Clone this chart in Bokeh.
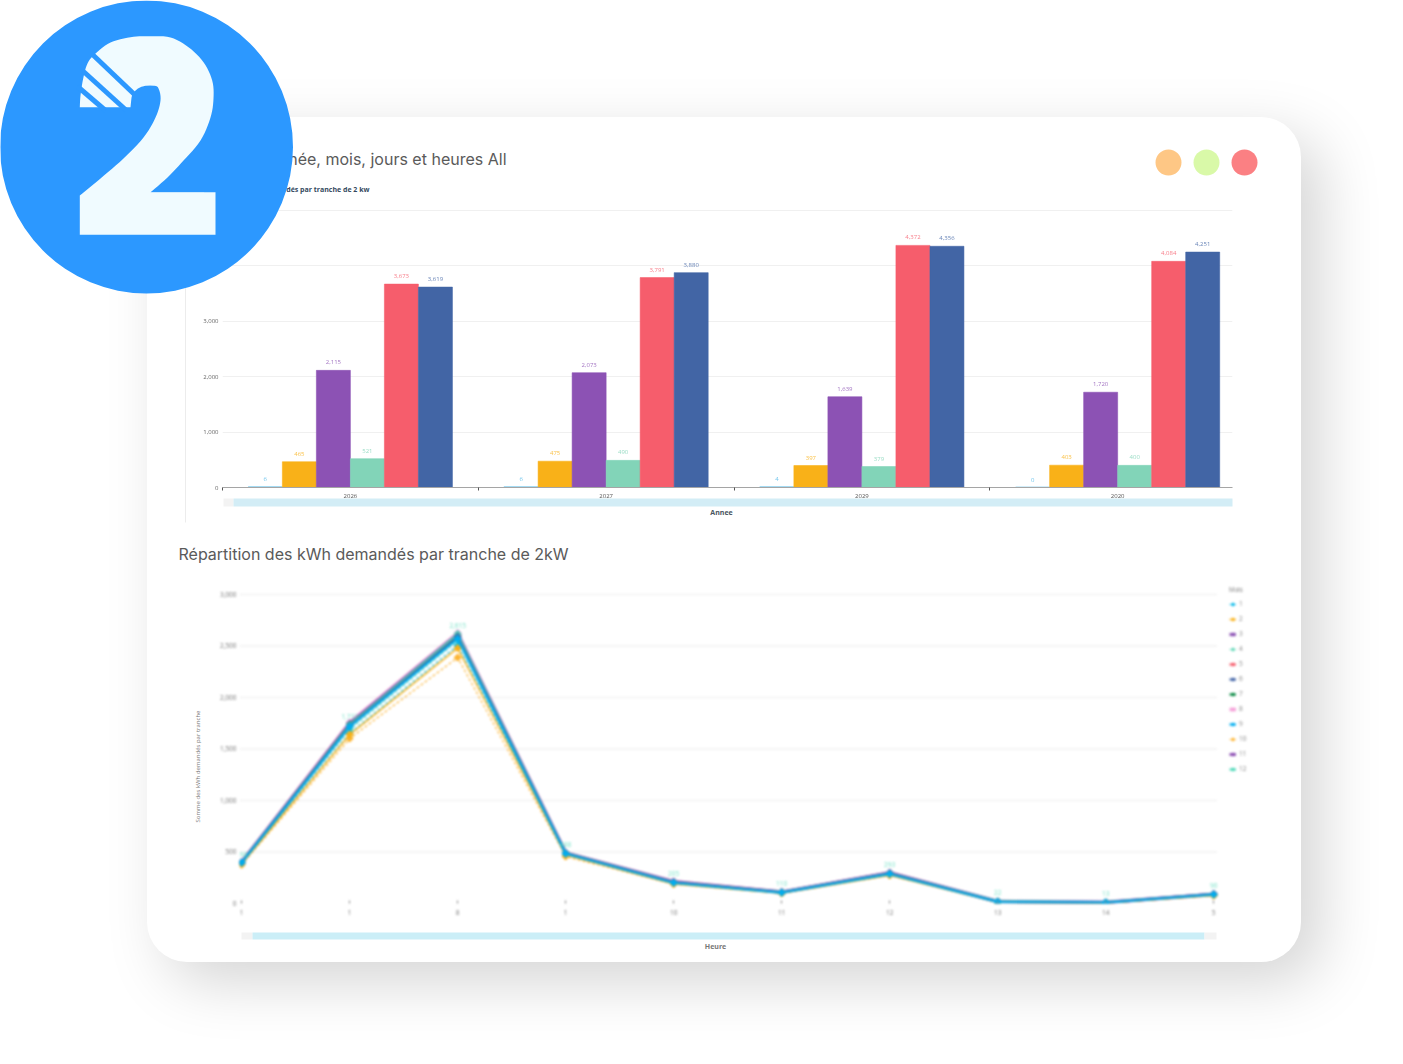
from math import pi
from bokeh.core.properties import value
from bokeh.embed import file_html
from bokeh.models import ColumnDataSource, FixedTicker, Legend, LegendItem, Range1d
from bokeh.plotting import figure
from bokeh.resources import INLINE

# ---------- chart 1 data
years = ["2026", "2027", "2029", "2020"]
tranche_a = [6, 6, 4, 0]
tranche_b = [465, 475, 397, 403]
tranche_c = [2115, 2073, 1639, 1720]
tranche_d = [521, 490, 379, 400]
tranche_e = [3673, 3791, 4372, 4084]
tranche_f = [3619, 3880, 4356, 4251]
bar_series = [tranche_a, tranche_b, tranche_c, tranche_d, tranche_e, tranche_f]
bar_colors = ["#4DB8E8", "#F9B118", "#8C52B4", "#82D4B8", "#F65D6C", "#4265A5"]

# ---------- chart 2 data
x_labels = ["1", "1", "8", "1", "10", "11", "12", "13", "14", "5"]
y_ticks2 = [0, 500, 1000, 1500, 2000, 2500, 3000]
m1 = [392, 1650, 2505, 480, 198, 103, 285, 14, 8, 82]
m2 = [385, 1640, 2480, 470, 190, 100, 275, 12, 6, 78]
m3 = [400, 1745, 2615, 490, 212, 112, 298, 20, 10, 90]
m4 = [396, 1690, 2553, 484, 202, 106, 288, 16, 9, 85]
m5 = [398, 1730, 2600, 486, 205, 108, 292, 18, 10, 88]
m6 = [398, 1722, 2590, 487, 203, 107, 290, 17, 10, 92]
m7 = [397, 1735, 2585, 485, 201, 106, 288, 16, 9, 86]
m8 = [401, 1755, 2625, 489, 210, 110, 296, 19, 11, 88]
m9 = [396, 1715, 2570, 482, 200, 105, 286, 15, 9, 86]
m10 = [375, 1602, 2388, 456, 188, 98, 272, 11, 6, 76]
m11 = [399, 1740, 2610, 488, 208, 110, 296, 19, 10, 89]
m12 = [398, 1733, 2615, 488, 205, 110, 293, 22, 13, 90]
month_series = [m1, m2, m3, m4, m5, m6, m7, m8, m9, m10, m11, m12]
month_colors = ["#01B8E8", "#F9B118", "#8C52B4", "#5CD6B5", "#F65D6C", "#4163A6",
                "#0A8A43", "#F59FD8", "#00AEEF", "#FDB32E", "#8C4FB3", "#4FD8B8"]
month_names = [str(i) for i in range(1, 13)]
thin_months = {0, 3, 9}
draw_order = [7, 2, 10, 4, 6, 11, 9, 3, 0, 1, 5, 8]
line_width_of = {7: 3.6, 2: 3.2, 10: 3.0, 1: 1.6}

# outline of the badge's figure
two_outer = [(79.3, 106.7), (80, 95), (82.7, 78), (87, 63), (95, 53), (110, 42), (130, 36.7), (148, 35.7),
             (170, 37), (188, 46.7), (203, 61.7), (211.7, 80), (213, 98), (210, 117), (200, 140), (183, 160),
             (167, 177), (150, 191.7)]
two_inner = [(79.3, 195), (100, 178), (123, 158), (143, 137), (155, 117), (160, 100), (158, 88), (152, 82),
             (143, 80), (137, 83), (132, 92), (130, 106.7)]
two_corners = [(215, 191.7), (215, 234.3), (79.3, 234.3)]


def smooth(pts, steps=6):
    """Catmull-Rom pass through the outline points."""
    out = []
    p = [pts[0]] + pts + [pts[-1]]
    for i in range(1, len(p) - 2):
        for s in range(steps):
            t = s / steps
            out.append(tuple(0.5 * (2 * p[i][d] + (p[i + 1][d] - p[i - 1][d]) * t
                                    + (2 * p[i - 1][d] - 5 * p[i][d] + 4 * p[i + 1][d] - p[i + 2][d]) * t ** 2
                                    + (3 * p[i][d] - p[i - 1][d] - 3 * p[i + 1][d] + p[i + 2][d]) * t ** 3)
                             for d in (0, 1)))
    out.append(pts[-1])
    return out


two_pts = smooth(two_outer) + two_corners + smooth(two_inner)


def place(left, top, extra=None):
    s = {"position": "absolute", "left": f"{left}px", "top": f"{top}px"}
    s.update(extra or {})
    return s


# ---------- the white card with its shadow
card = figure(width=1154, height=845, toolbar_location=None, output_backend="svg",
              x_range=(0, 1), y_range=(0, 1), min_border=0, outline_line_color=None,
              border_fill_color=None, background_fill_color=None)
card.axis.visible = False
card.grid.visible = False
card.styles = place(147, 117, {"background": "#fff", "border-radius": "40px",
                               "box-shadow": "20px 20px 60px rgba(0,0,0,0.17)"})

# ---------- chart 1
c1 = figure(frame_width=1010, frame_height=278, toolbar_location=None, output_backend="svg",
            x_range=Range1d(-0.5, 3.449), y_range=Range1d(0, 5020),
            min_border_left=40, min_border_right=5, min_border_top=8, min_border_bottom=22,
            outline_line_color=None, border_fill_color=None, background_fill_color=None)
c1.styles = place(182, 201, {"filter": "blur(0.4px)"})
bar_w = 0.133
for j, (vals, col) in enumerate(zip(bar_series, bar_colors)):
    xs = [i + (j - 2.5) * bar_w for i in range(len(years))]
    src = ColumnDataSource(dict(x=xs, top=vals, txt=[f"{v:,}" for v in vals]))
    c1.vbar(x="x", top="top", bottom=0, width=bar_w, source=src, fill_color=col,
            line_color=col, line_alpha=1 if j == 0 else 0.55, line_width=1.5 if j == 0 else 1)
    c1.text(x="x", y="top", text="txt", source=src, text_color=col, text_alpha=0.8,
            text_font=value("Open Sans"), text_font_size="6px", text_align="center",
            text_baseline="bottom", y_offset=-6)
c1.xaxis.ticker = FixedTicker(ticks=list(range(len(years))), minor_ticks=[-0.5, 0.5, 1.5, 2.5])
c1.xaxis.major_label_overrides = {i: y for i, y in enumerate(years)}
c1.xaxis.major_tick_line_color = None
c1.xaxis.major_tick_in = 0
c1.xaxis.major_tick_out = 0
c1.xaxis.minor_tick_in = 0
c1.xaxis.minor_tick_out = 3
c1.xaxis.minor_tick_line_color = "#555555"
c1.xaxis.axis_line_color = "#a5a5a5"
c1.xaxis.major_label_text_font = "Open Sans"
c1.xaxis.major_label_text_font_size = "6px"
c1.xaxis.major_label_text_color = "#555555"
c1.xaxis.major_label_standoff = 3
c1.yaxis.ticker = FixedTicker(ticks=[0, 1000, 2000, 3000, 4000, 5000])
c1.yaxis.major_label_overrides = {v: f"{v:,}" for v in [0, 1000, 2000, 3000, 4000, 5000]}
c1.yaxis.axis_line_color = None
c1.yaxis.major_tick_line_color = None
c1.yaxis.major_tick_in = 0
c1.yaxis.major_tick_out = 0
c1.yaxis.minor_tick_line_color = None
c1.yaxis.major_label_text_font = "Open Sans"
c1.yaxis.major_label_text_font_size = "6px"
c1.yaxis.major_label_text_color = "#666666"
c1.yaxis.major_label_standoff = 4
c1.xgrid.visible = False
c1.ygrid.grid_line_color = "#f0f0f0"

# ---------- chart 2 (its frame also takes in the legend; grid rules stop at the last tick)
x_start2, x_grid_end2 = -0.02, 9.03
c2 = figure(frame_width=1023, frame_height=319, toolbar_location=None, output_backend="svg",
            x_range=Range1d(x_start2, 9.452), y_range=Range1d(0, 3097),
            min_border_left=40, min_border_right=4, min_border_top=8, min_border_bottom=25,
            outline_line_color=None, border_fill_color=None, background_fill_color=None)
c2.styles = place(199, 576, {"filter": "blur(0.9px)"})
c2.xgrid.visible = False
c2.ygrid.visible = False
c2.segment([x_start2] * 6, y_ticks2[1:], [x_grid_end2] * 6, y_ticks2[1:], line_color="#f1f1f1", line_width=1.5)
rows = {}
xs2 = list(range(len(x_labels)))
for k in draw_order:
    col = month_colors[k]
    thin = k in thin_months
    ln = c2.line(xs2, month_series[k], line_color=col, line_alpha=0.9,
                 line_width=1.2 if thin else line_width_of.get(k, 2.4),
                 line_dash="3 2" if thin else "solid")
    mk = c2.scatter(xs2, month_series[k], marker="plus", size=6, line_color=col,
                    fill_color=col)
    rows[k] = [ln, mk]
c2.text(xs2, m12, text=[f"{v:,}" for v in m12], text_color=month_colors[11], text_alpha=0.8,
        text_font=value("Open Sans"), text_font_size="6.5px", text_align="center",
        text_baseline="bottom", y_offset=-6)
c2.xaxis.ticker = FixedTicker(ticks=xs2)
c2.xaxis.major_label_overrides = {i: t for i, t in enumerate(x_labels)}
c2.xaxis.axis_line_color = None
c2.xaxis.major_tick_in = 3
c2.xaxis.major_tick_out = 0
c2.xaxis.minor_tick_line_color = None
c2.xaxis.major_tick_line_color = "#8a8a8a"
c2.xaxis.major_label_text_font = "Open Sans"
c2.xaxis.major_label_text_font_size = "6.5px"
c2.xaxis.major_label_text_color = "#777777"
c2.xaxis.major_label_standoff = 6
c2.yaxis.ticker = FixedTicker(ticks=y_ticks2)
c2.yaxis.major_label_overrides = {v: f"{v:,}" for v in y_ticks2}
c2.yaxis.axis_line_color = None
c2.yaxis.major_tick_line_color = None
c2.yaxis.major_tick_in = 0
c2.yaxis.major_tick_out = 0
c2.yaxis.minor_tick_line_color = None
c2.yaxis.major_label_text_font = "Open Sans"
c2.yaxis.major_label_text_font_size = "6.5px"
c2.yaxis.major_label_text_color = "#777777"
c2.yaxis.major_label_standoff = 3
legend = Legend(items=[LegendItem(label=month_names[k], renderers=rows[k]) for k in range(12)],
                title="Mois", title_text_font_size="6.5px", title_text_color="#888888",
                title_text_font_style="normal", title_standoff=6, label_text_font_size="6.5px",
                label_text_color="#888888", label_text_font="Open Sans", glyph_width=7,
                glyph_height=8, label_standoff=3, spacing=6, padding=0, margin=0,
                border_line_color=None, background_fill_color=None, label_height=9,
                location=(990, 130))
c2.add_layout(legend, "center")

# ---------- page furniture on top (panel line, sliders, titles, the badge)
top = figure(width=1403, height=1064, toolbar_location=None, output_backend="svg",
             x_range=Range1d(0, 1403), y_range=Range1d(1064, 0), min_border=0,
             outline_line_color=None, border_fill_color=None, background_fill_color=None)
top.axis.visible = False
top.grid.visible = False
top.styles = place(0, 0)
top.segment([185], [195], [185], [522], line_color="#ececec", line_width=1)
top.quad(left=[223, 233], right=[233, 1232], top=[498, 498], bottom=[506, 506],
         fill_color=["#f3f3f3", "#D3EDF6"], line_color=None)
top.quad(left=[241, 252, 1204], right=[252, 1204, 1216], top=[932] * 3, bottom=[939] * 3,
         fill_color=["#f3f3f3", "#CBEEF7", "#f3f3f3"], line_color=None)
top.circle(x=[1168, 1206, 1244], y=[162] * 3, radius=13,
           fill_color=["#FEC785", "#D9F9A8", "#FB8083"], line_color=None)
poppins = value("Inter")
top.text([506], [158], text=["née, mois, jours et heures All"], text_font=poppins, text_font_size="16px",
         text_color="#5a5a5a", text_align="right", text_baseline="middle")
top.text([178], [553], text=["Répartition des kWh demandés par tranche de 2kW"], text_font=poppins,
         text_font_size="16px", text_color="#5a5a5a", text_align="left", text_baseline="middle")
top.text([369], [189], text=["dés par tranche de 2 kw"], text_font=value("Open Sans"), text_font_size="7px",
         text_font_style="bold", text_color="#34495e", text_align="right", text_baseline="middle")
top.text([721], [512], text=["Annee"], text_font=value("Open Sans"), text_font_size="7px",
         text_font_style="bold", text_color="#4a5560", text_align="center", text_baseline="middle")
top.text([715], [946], text=["Heure"], text_font=value("Open Sans"), text_font_size="7px",
         text_font_style="bold", text_color="#777777", text_align="center", text_baseline="middle")
top.text([197], [766], text=["Somme des kWh demandés par tranche"], text_font=value("Open Sans"),
         text_font_size="6px", text_color="#777777", text_align="center", text_baseline="middle",
         angle=pi / 2)
top.circle(x=[146], y=[146.5], radius=146.5, fill_color="#2C98FF", line_color=None)
top.text([150], [140], text=["2"], text_font=value("Liberation Sans"), text_font_size="225px",
         text_font_style="bold", text_color="#F0FBFF", text_align="center", text_baseline="middle")
top.patch([p[0] for p in two_pts], [p[1] for p in two_pts], fill_color="#F0FBFF", line_color=None)
top.segment([92, 83, 77], [54, 71, 86], [134, 126, 105], [94, 110, 110], line_color="#2C98FF", line_width=5)

open("out.html", "w").write(file_html([card, c1, c2, top], INLINE))
